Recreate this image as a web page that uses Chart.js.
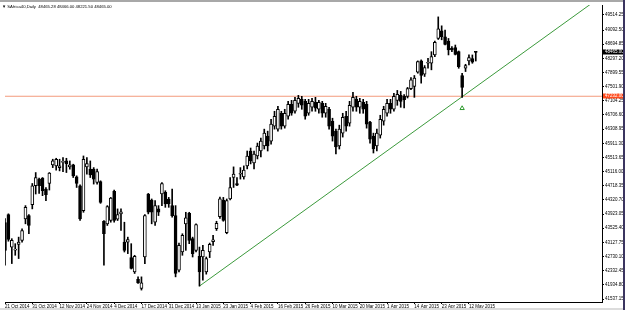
<!DOCTYPE html>
<html>
<head>
<meta charset="utf-8">
<script src="https://cdn.jsdelivr.net/npm/chart.js@4.4.1/dist/chart.umd.min.js"></script>
<style>
  html, body { margin: 0; padding: 0; background: #fff; }
  #wrap { width: 625px; height: 310px; }
</style>
</head>
<body>
<div id="wrap"><canvas id="chart" width="625" height="310"></canvas></div>
<script>
// SAfrica40 daily candles, oldest first
const opens = [43685,43909,42996,42910,43072,43183,43789,43881,44188,44718,44905,44933,44626,44782,45304,45276,45228,45375,45415,45248,
  45304,44969,44718,44020,45248,45184,45184,44810,44838,43721,43649,43741,44559,43777,43928,43136,43136,42700,42299,42087,
  41836,42717,44486,44319,43694,44068,44486,44531,44347,44160,43881,42346,42857,43649,43945,43231,42904,42737,42717,42299,
  42857,43150,43510,43850,44319,43400,44347,44949,44782,45040,44969,45276,45694,45359,45555,45694,45834,46113,45973,46392,
  46308,46754,46392,46671,47005,46810,47033,47145,47089,46754,46922,47061,46866,47033,46754,46866,46531,46252,45834,46196,
  46671,46475,46922,47145,46922,47061,47005,46503,46113,45834,46141,46531,46754,47033,46866,47117,47257,47229,47229,47444,
  47508,47907,48225,47851,48158,48158,48392,48855,49070,48903,48782,48576,48596,48484,47815,48018,48225,48289,48465.28];
const highs = [43797,43930,43231,43091,43275,43510,44160,43909,44782,45089,44933,44949,44670,45089,45463,45490,45463,45507,45490,45415,
  45323,44997,44746,45555,45507,45415,45228,45184,44857,43741,44160,44391,44598,44068,44068,43694,43275,43091,42765,42159,
  42159,43909,44503,44347,44299,44160,44810,44578,44391,44626,44160,43108,43370,43973,43973,43275,43649,42996,43044,42717,
  43108,43323,43721,44400,44391,44347,44949,45248,44949,45228,45276,45694,45778,45694,45917,46057,46308,46252,46587,46810,
  46950,46810,46866,47089,47117,47201,47257,47229,47145,47145,47173,47201,47117,47089,47033,46922,46615,46308,46420,46754,
  46810,47089,47340,47229,47173,47145,47089,46531,46196,46308,46698,46950,47145,47145,47312,47396,47368,47276,47480,47759,
  47815,48225,48253,48093,48297,48484,48784,49461,49210,49089,48855,48624,48671,48503,47879,48130,48392,48392,48466];
const lows = [42486,43160,42533,42765,42673,43136,43649,43370,44068,44486,44503,44439,44299,44598,45228,45156,45136,45117,45089,45184,
  44949,44670,43741,43973,45044,44949,44765,44765,44224,42486,43602,43694,43694,43741,43462,42857,42812,42380,42254,41975,
  41788,42533,43928,43649,43602,43881,44160,44112,44112,43833,42159,42299,42765,42904,43091,42717,42857,41900,42067,42235,
  42700,43044,43462,43800,43721,43370,44319,44670,44718,44905,44905,45192,45331,45192,45471,45527,45750,45694,45889,46308,
  46252,46308,46336,46587,46698,46754,46922,46866,46587,46698,46810,46810,46754,46643,46643,46308,45973,45610,45750,46085,
  46252,46392,46810,46810,46754,46754,46336,45917,45638,45694,46057,46420,46671,46754,46810,46978,46922,46903,47183,47416,
  47201,47879,47600,47787,48018,47974,48345,48827,48818,48671,48392,48484,48392,48018,47201,47926,48113,48158,48221.5];
const closes = [42904,43211,43183,42940,43136,43462,44112,43602,44718,44949,44718,44578,44467,45072,45415,45463,45276,45400,45340,45304,
  44997,44782,43789,45463,45340,45025,44905,45117,44252,43370,44132,44374,43741,43909,43984,42904,43203,42394,42737,41992,
  41992,43881,43973,43973,44160,43973,44782,44207,44207,43881,42254,43044,43323,43817,43183,42812,43630,42299,42904,42673,
  43072,43200,43666,44350,43741,44299,44670,45044,44737,45070,45156,45555,45415,45610,45834,45973,46196,45834,46447,46671,
  46866,46392,46754,47005,46754,47117,47173,46978,46671,47033,47089,46894,47061,46754,46950,46392,46113,45806,46308,46643,
  46392,46978,47201,46922,47089,46866,46447,46029,45750,46196,46587,46866,47033,46866,47229,47284,47089,47136,47444,47695,
  47739,48205,47815,48038,48186,48345,48744,49126,48903,48688,48531,48531,48409,48066,47480,48093,48317,48186,48465];

// x-axis dates, one every 8 bars
const dateLabels = ["21 Oct 2014","31 Oct 2014","12 Nov 2014","24 Nov 2014","4 Dec 2014","17 Dec 2014","31 Dec 2014",
  "13 Jan 2015","23 Jan 2015","4 Feb 2015","16 Feb 2015","26 Feb 2015","10 Mar 2015","20 Mar 2015","1 Apr 2015",
  "14 Apr 2015","23 Apr 2015","12 May 2015"];
const priceTicks = [41537.15,41934.80,42332.45,42730.10,43127.75,43525.40,43923.05,44320.70,44718.35,45116.00,45513.65,
  45911.30,46308.95,46706.60,47104.25,47501.90,47899.55,48297.20,48694.85,49092.50,49514.25];

// drawn objects
const trendIdx = [57, 175];
const trendVal = [41900, 50050];
const levelIdx = [0, 175];
const levelVal = 47232;
const arrowIdx = 134;
const arrowVal = 46894;
const lastPrice = 48465.00;
const titleText = "\u25BC SAfrica40,Daily  48465.28 48466.00 48221.50 48465.00";

const barCount = 176;
const font = '"Liberation Sans", Arial, sans-serif';

function priceBox(c, y, x0, x1, bg, txt) {
    c.fillStyle = bg;
    c.fillRect(x0, Math.round(y) - 2.5, x1 - x0, 5);
    c.fillStyle = "#fff";
    c.font = "4.5px " + font;
    c.textAlign = "left";
    c.textBaseline = "middle";
    c.fillText(txt, x0 + 2, Math.round(y) + 0.2);
}

const overlay = {
    id: "overlay",
    beforeDraw(chart) {
        const c = chart.ctx;
        c.save();
        c.fillStyle = "#fff";
        c.fillRect(0, 0, chart.width, chart.height);
        c.restore();
    },
    afterDraw(chart) {
        const c = chart.ctx;
        const y = chart.scales.y;
        const a = chart.chartArea;
        c.save();
        priceBox(c, y.getPixelForValue(lastPrice), a.right + 1, 623, "#000", lastPrice.toFixed(2));
        priceBox(c, y.getPixelForValue(levelVal), a.right + 1, 623, "#ff4a1c", levelVal.toFixed(2));
        c.fillStyle = "#000";
        c.font = "4.2px " + font;
        c.textAlign = "left";
        c.textBaseline = "middle";
        c.fillText(titleText, 2, 6.5);
        // window frame
        c.fillStyle = "#a8a8a8";
        c.fillRect(0, 0, chart.width, 2);
        c.fillStyle = "#3b3560";
        c.fillRect(623, 0, 2, chart.height);
        c.fillStyle = "#dcdcdc";
        c.fillRect(0, 308, 623, 2);
        c.restore();
    }
};

const ctx = document.getElementById("chart").getContext("2d");
new Chart(ctx, {
    type: "bar",
    data: {
        datasets: [
            {
                // candle bodies
                data: opens.map((o, i) => ({ x: i, y: [o, closes[i]] })),
                backgroundColor: closes.map((c, i) => (c >= opens[i] ? "#fff" : "#000")),
                borderColor: "#000",
                borderWidth: 1,
                borderSkipped: false,
                barThickness: 3,
                minBarLength: 1,
                grouped: false,
            },
            {
                // wicks
                data: lows.map((l, i) => ({ x: i, y: [l, highs[i]] })),
                backgroundColor: "#000",
                borderWidth: 0,
                barThickness: 1,
                grouped: false,
            },
            {
                type: "line",
                data: trendIdx.map((x, i) => ({ x: x, y: trendVal[i] })),
                borderColor: "#3c9a3c",
                borderWidth: 1,
                pointRadius: 0,
            },
            {
                type: "line",
                data: levelIdx.map((x) => ({ x: x, y: levelVal })),
                borderColor: "#f39a7c",
                borderWidth: 1,
                pointRadius: 0,
            },
            {
                type: "line",
                data: [{ x: arrowIdx, y: arrowVal }],
                showLine: false,
                pointStyle: "triangle",
                pointRadius: 2.5,
                borderColor: "#2e9a2e",
                backgroundColor: "rgba(0,0,0,0)",
                borderWidth: 1,
            },
        ],
    },
    options: {
        responsive: false,
        animation: false,
        layout: { padding: { top: 3, left: 0, right: 0, bottom: 0 } },
        plugins: {
            legend: { display: false },
            tooltip: { enabled: false },
        },
        scales: {
            x: {
                type: "linear",
                min: 0,
                max: barCount - 1,
                offset: false,
                afterBuildTicks: (s) => {
                    s.ticks = dateLabels.map((d, i) => ({ value: i * 8 }));
                },
                afterFit: (s) => { s.height = 8; },
                grid: { display: true, drawOnChartArea: false, offset: false, tickLength: 2, color: "#000" },
                border: { display: true, color: "#000" },
                ticks: {
                    autoSkip: false,
                    maxRotation: 0,
                    align: "start",
                    padding: 0,
                    color: "#000",
                    font: { size: 4.5, family: font },
                    callback: (v) => dateLabels[v / 8],
                },
            },
            y: {
                position: "right",
                min: 41453,
                max: 49795,
                afterBuildTicks: (s) => {
                    s.ticks = priceTicks.map((v) => ({ value: v }));
                },
                afterFit: (s) => { s.width = 23; },
                grid: { display: true, drawOnChartArea: false, tickLength: 2, color: "#000" },
                border: { display: true, color: "#000" },
                ticks: {
                    autoSkip: false,
                    padding: 1,
                    color: "#000",
                    font: { size: 4.5, family: font },
                    callback: (v) => v.toFixed(2),
                },
            },
        },
    },
    plugins: [overlay],
});
</script>
</body>
</html>
